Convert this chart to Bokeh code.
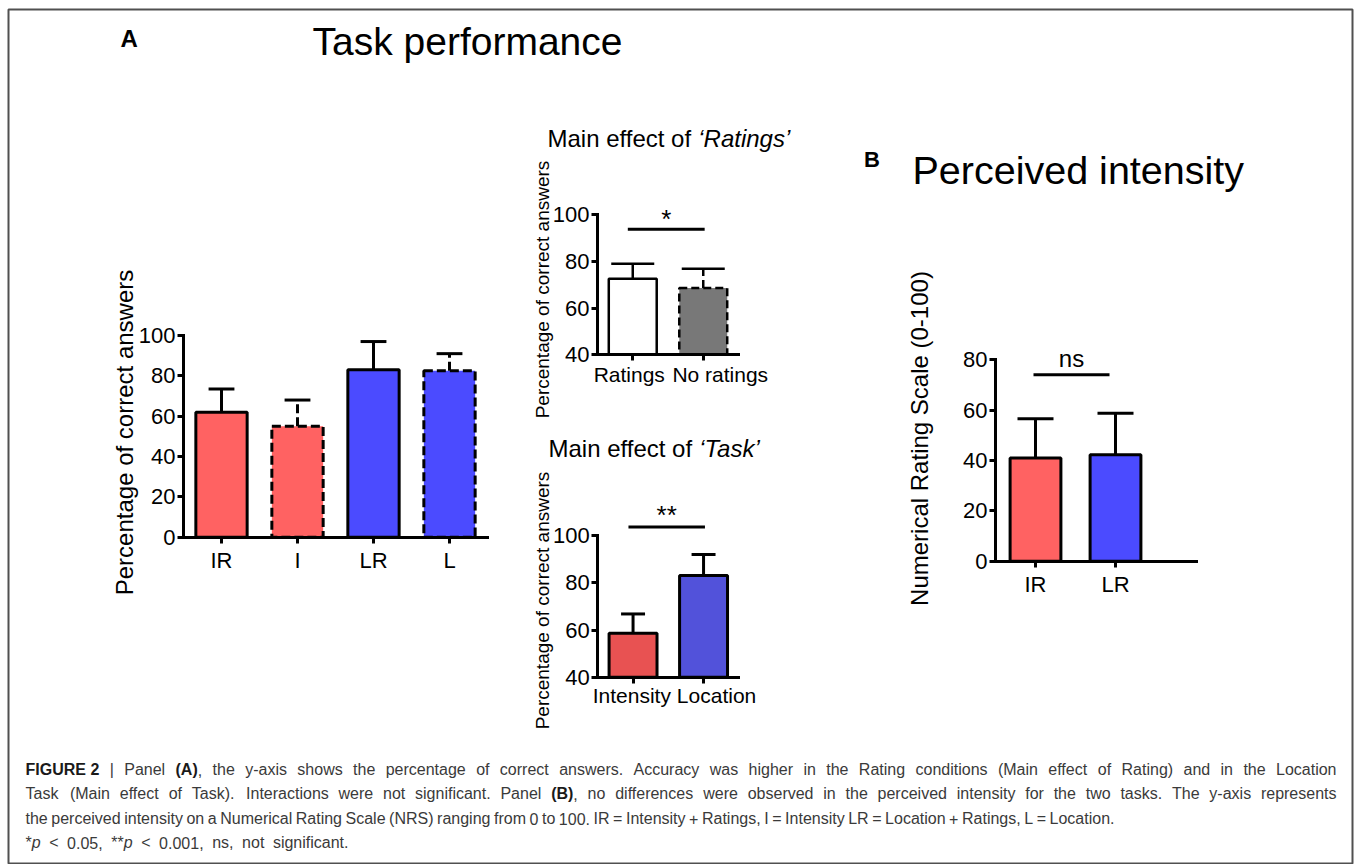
import math
from bokeh.plotting import figure
from bokeh.models import Range1d, LinearAxis, FixedTicker
from bokeh.core.properties import value
from bokeh.embed import file_html
from bokeh.resources import INLINE

# ---------------- data ----------------
a_cats = ["IR", "I", "LR", "L"]
a_vals = [62.0, 55.0, 83.0, 82.5]
a_err = [11.5, 13.0, 14.0, 8.5]
a_yticks = [0, 20, 40, 60, 80, 100]

r_cats = ["Ratings", "No ratings"]
r_vals = [72.6, 68.6]
r_err = [6.4, 8.3]
r_yticks = [40, 60, 80, 100]
r_sig_label = "*"
r_sig_y = 93.8
r_sig_text_y = 98.0
r_sig_span = [0.43, 1.52]

t_cats = ["Intensity", "Location"]
t_vals = [58.6, 83.1]
t_err = [8.2, 8.9]
t_yticks = [40, 60, 80, 100]
t_sig_label = "**"
t_sig_y = 103.6
t_sig_text_y = 108.8
t_sig_span = [0.435, 1.52]

b_cats = ["IR", "LR"]
b_vals = [41.0, 42.2]
b_err = [15.5, 16.5]
b_yticks = [0, 20, 40, 60, 80]
b_sig_label = "ns"
b_sig_y = 74.0
b_sig_text_y = 80.3
b_sig_span = [0.475, 1.425]

caption_lines = [
    "<b>FIGURE\u00a02</b> | Panel <b>(A)</b>, the y-axis shows the percentage of correct answers. Accuracy was higher in the Rating conditions (Main effect of Rating) and in the Location",
    "Task (Main effect of Task). Interactions were not significant. Panel <b>(B)</b>, no differences were observed in the perceived intensity for the two tasks. The y-axis represents",
    "the perceived intensity on a Numerical Rating Scale (NRS) ranging from 0 to 100. IR = Intensity + Ratings, I = Intensity LR = Location + Ratings, L = Location.",
    "*<i>p</i> < 0.05, **<i>p</i> < 0.001, ns, not significant.",
]

# ---------------- styling / layout ----------------
FONT = "Liberation Sans"
W, H = 1354, 864
FL, FR, FT, FB = 8, 1352, 9, 864          # framed box (page pixels)
RED, BLUE = "#FF6262", "#4B4BFF"

# Arial/Liberation Sans advance widths (1/1000 em)
_CH = " !\"#$%&'()*+,-./0123456789:;<=>?@ABCDEFGHIJKLMNOPQRSTUVWXYZ[\\]^_`abcdefghijklmnopqrstuvwxyz{|}~\u2018\u2019\u00a0"
_REG = ([278, 278, 355, 556, 556, 889, 667, 191, 333, 333, 389, 584, 278, 333, 278, 278] + [556] * 10 +
        [278, 278, 584, 584, 584, 556, 1015] +
        [667, 667, 722, 722, 667, 611, 778, 722, 278, 500, 667, 556, 833, 722, 778, 667, 778, 722, 667, 611, 722, 667, 944, 667, 667, 611] +
        [278, 278, 278, 469, 556, 333] +
        [556, 556, 500, 556, 556, 278, 556, 556, 222, 222, 500, 222, 833, 556, 556, 556, 556, 333, 500, 278, 556, 500, 722, 500, 500, 500] +
        [334, 260, 334, 584, 222, 222, 278])
_BOLD = ([278, 333, 474, 556, 556, 889, 722, 238, 333, 333, 389, 584, 278, 333, 278, 278] + [556] * 10 +
         [333, 333, 584, 584, 584, 611, 975] +
         [722, 722, 722, 722, 667, 611, 778, 722, 278, 556, 722, 611, 833, 722, 778, 667, 778, 722, 667, 611, 722, 667, 944, 667, 667, 611] +
         [333, 278, 333, 584, 556, 333] +
         [556, 611, 556, 611, 556, 333, 611, 611, 278, 278, 556, 278, 889, 611, 611, 611, 611, 389, 556, 333, 611, 556, 778, 556, 556, 500] +
         [389, 280, 389, 584, 278, 278, 278])
WREG = dict(zip(_CH, _REG))
WBOLD = dict(zip(_CH, _BOLD))


def tw(s, style, size):
    tab = WBOLD if style == "bold" else WREG
    return sum(tab.get(c, 556) for c in s) / 1000.0 * size


p = figure(width=W, height=H, x_range=Range1d(FL, FR), y_range=Range1d(FB, FT),
           x_axis_type=None, y_axis_type=None, toolbar_location=None,
           output_backend="svg", min_border=0, min_border_left=FL, min_border_right=W - FR,
           min_border_top=FT, min_border_bottom=H - FB,
           outline_line_color="#505050", outline_line_width=2,
           background_fill_color="white", border_fill_color="white")


def txt(x, y, s, size, style="normal", color="black", align="left",
        baseline="middle", angle=0.0, rname=None):
    kw = {}
    if rname:
        kw = dict(x_range_name=rname, y_range_name=rname)
    p.text(x=[x], y=[y], text=[s], text_font=value(FONT),
           text_font_size=value(f"{size}px"), text_font_style=value(style),
           text_color=color, text_align=value(align), text_baseline=value(baseline),
           angle=angle, **kw)


def panel(name, cats, vals, err, yticks, x0, unit, yb, k, xend,
          fills, dashed, bar_w, cap_w, lw, dash, sig=None, free_labels=None):
    vb = yticks[0]
    p.extra_x_ranges[name] = Range1d((FL - x0) / unit, (FR - x0) / unit)
    p.extra_y_ranges[name] = Range1d(vb - (FB - yb) / k, vb + (yb - FT) / k)
    xs = [i + 0.5 for i in range(len(cats))]
    ups = [v + e for v, e in zip(vals, err)]
    rk = dict(x_range_name=name, y_range_name=name)
    for flag in (False, True):
        idx = [i for i, d in enumerate(dashed) if d == flag]
        if not idx:
            continue
        p.vbar(x=[xs[i] for i in idx], top=[vals[i] for i in idx], bottom=vb,
               width=bar_w, fill_color=[fills[i] for i in idx], line_color="black",
               line_width=lw, line_dash=(dash if flag else "solid"), **rk)
    for flag in (False, True):
        idx = [i for i, d in enumerate(dashed) if d == flag]
        if not idx:
            continue
        sx = [xs[i] for i in idx]
        p.segment(x0=sx, y0=[vals[i] for i in idx], x1=sx, y1=[ups[i] for i in idx],
                  line_color="black", line_width=lw,
                  line_dash=(dash if flag else "solid"), **rk)
    p.segment(x0=[x - cap_w / 2 for x in xs], y0=ups, x1=[x + cap_w / 2 for x in xs], y1=ups,
              line_color="black", line_width=lw, **rk)
    common = dict(axis_line_width=3, axis_line_color="black", axis_line_cap="square",
                  major_tick_line_width=3, major_tick_line_color="black",
                  major_tick_in=0, major_tick_out=6, minor_tick_in=0, minor_tick_out=0,
                  minor_tick_line_color=None,
                  major_label_text_font=FONT, major_label_text_font_size="22px",
                  major_label_text_color="black")
    yax = LinearAxis(fixed_location=0, bounds=(yticks[0], yticks[-1]),
                     ticker=FixedTicker(ticks=yticks, minor_ticks=[]),
                     major_label_standoff=2, **rk, **common)
    p.add_layout(yax, "left")
    xkw = dict(common)
    if free_labels:
        xkw["major_label_text_color"] = None
    xax = LinearAxis(fixed_location=vb, bounds=(0, xend),
                     ticker=FixedTicker(ticks=xs, minor_ticks=[]),
                     major_label_overrides={x: c for x, c in zip(xs, cats)},
                     major_label_standoff=5, **rk, **xkw)
    p.add_layout(xax, "below")
    if free_labels:
        offs, dy, fs = free_labels
        for x, c, o in zip(xs, cats, offs):
            txt(x0 + x * unit + o, yb + dy, c, fs, align="center")
    if sig:
        label, sy, ty, span, fs = sig
        p.segment(x0=[span[0]], y0=[sy], x1=[span[1]], y1=[sy], line_color="black",
                  line_width=3, **rk)
        txt((span[0] + span[1]) / 2, ty, label, fs, align="center", rname=name)


panel("A", a_cats, a_vals, a_err, a_yticks, 183, 76, 536.7, 2.017, 4,
      [RED, RED, BLUE, BLUE], [False, True, False, True], 0.675, 0.34, 3, "9 4")
panel("R", r_cats, r_vals, r_err, r_yticks, 597, 70.5, 354.3, 2.333, 2,
      ["#FFFFFF", "#787878"], [False, True], 0.68, 0.61, 2.5, "8 4",
      sig=(r_sig_label, r_sig_y, r_sig_text_y, r_sig_span, 26),
      free_labels=([-3.5, 17], 19.7, 21))
panel("T", t_cats, t_vals, t_err, t_yticks, 597.3, 70.5, 676.7, 2.36, 2,
      ["#E85252", "#5252DA"], [False, False], 0.68, 0.34, 3, "8 4",
      sig=(t_sig_label, t_sig_y, t_sig_text_y, t_sig_span, 26),
      free_labels=([-1.2, 13], 18.1, 21))
panel("B", b_cats, b_vals, b_err, b_yticks, 995, 80, 560.7, 2.52, 2.51,
      [RED, BLUE], [False, False], 0.635, 0.45, 3, "8 4",
      sig=(b_sig_label, b_sig_y, b_sig_text_y, b_sig_span, 24))

# headings
txt(120, 38.3, "A", 24, style="bold")
txt(312, 40.5, "Task performance", 39)
txt(863.5, 159, "B", 22, style="bold")
txt(912, 169.7, "Perceived intensity", 39.5)
for (tx, ty, ital) in [(547, 138, "\u2018Ratings\u2019"), (548, 448, "\u2018Task\u2019")]:
    pre = "Main effect of "
    txt(tx, ty, pre, 24)
    txt(tx + tw(pre, "normal", 24), ty, ital, 24, style="italic")

# rotated axis labels
txt(124, 432, "Percentage of correct answers", 24, align="center", angle=math.pi / 2)
txt(542, 289, "Percentage of correct answers", 19, align="center", angle=math.pi / 2)
txt(542, 600, "Percentage of correct answers", 19, align="center", angle=math.pi / 2)
txt(919, 438, "Numerical Rating Scale (0-100)", 24, align="center", angle=math.pi / 2)


# caption (word by word; lines justified to the measured extents)
def parse(line):
    words, cur, buf, style = [], [], "", "normal"
    i = 0

    def flush():
        nonlocal buf
        if buf:
            cur.append((buf, style))
            buf = ""
    while i < len(line):
        for tag, st in (("<b>", "bold"), ("</b>", "normal"), ("<i>", "italic"), ("</i>", "normal")):
            if line.startswith(tag, i):
                flush()
                style = st
                i += len(tag)
                break
        else:
            c = line[i]
            if c == " ":
                flush()
                if cur:
                    words.append(cur)
                cur = []
            else:
                buf += c
            i += 1
    flush()
    if cur:
        words.append(cur)
    return words


CAP_FS = 16
CAP_L = 25.0
cap_right = [1336.0, 1336.0, 1114.0, 348.0]
cap_y = [769, 793.4, 818, 842]
colors = {"normal": "#3a3a3a", "bold": "#1a1a1a", "italic": "#3a3a3a"}
cols = {s: dict(x=[], y=[], text=[]) for s in colors}
for li, line in enumerate(caption_lines):
    words = parse(line)
    wsum = sum(tw(t, s, CAP_FS) for w in words for (t, s) in w)
    if cap_right[li] is not None:
        gap = (cap_right[li] - CAP_L - wsum) / (len(words) - 1)
    else:
        gap = tw(" ", "normal", CAP_FS)
    x = CAP_L
    for w in words:
        for (t, s) in w:
            cols[s]["x"].append(x)
            cols[s]["y"].append(cap_y[li])
            cols[s]["text"].append(t.replace("\u00a0", " "))
            x += tw(t, s, CAP_FS)
        x += gap
for s, d in cols.items():
    if d["x"]:
        p.text(x=d["x"], y=d["y"], text=d["text"], text_font=value(FONT),
               text_font_size=value(f"{CAP_FS}px"), text_font_style=value(s),
               text_color=colors[s], text_align="left", text_baseline="middle")

open("out.html", "w").write(file_html(p, INLINE))
